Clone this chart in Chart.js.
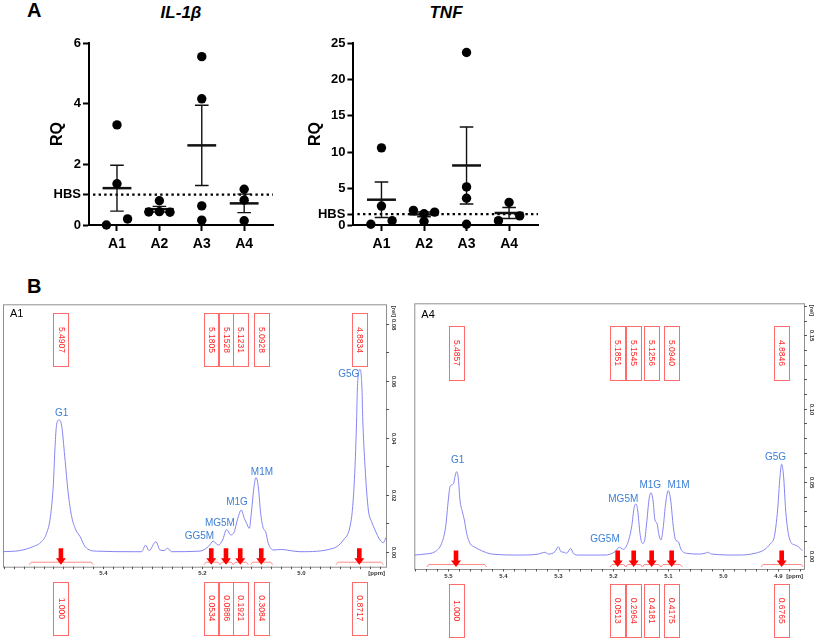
<!DOCTYPE html>
<html>
<head>
<meta charset="utf-8">
<script src="https://cdn.jsdelivr.net/npm/chart.js@4.4.1/dist/chart.umd.min.js"></script>
<style>
body { margin: 0; background: #fff; width: 817px; height: 640px; position: relative; overflow: hidden; font-family: "Liberation Sans", Arial, sans-serif; }
canvas { position: absolute; }
.t { position: absolute; font-weight: bold; white-space: nowrap; line-height: 20px; color: #000; }
</style>
</head>
<body>
<div class="t" style="left:27px;top:0;font-size:20px">A</div>
<div class="t" style="left:27px;top:276px;font-size:20px">B</div>
<div class="t" style="left:131px;top:3px;width:100px;text-align:center;font-size:17px;font-style:italic">IL-1β</div>
<div class="t" style="left:396px;top:3px;width:100px;text-align:center;font-size:17px;font-style:italic">TNF</div>
<canvas id="il" width="300" height="265" style="left:0;top:0"></canvas>
<canvas id="tnf" width="270" height="265" style="left:290px;top:0"></canvas>
<canvas id="a1" width="408" height="345" style="left:0;top:295px"></canvas>
<canvas id="a4" width="409" height="345" style="left:408px;top:295px"></canvas>
<script>
// panel A: qPCR, relative quantity per group
const groups = ['A1', 'A2', 'A3', 'A4'];
const il1bA1 = [3.3, 1.36, 0, 0.2];
const il1bA2 = [0.8, 0.43, 0.44, 0.42];
const il1bA3 = [5.55, 4.16, 0.63, 0.16];
const il1bA4 = [1.18, 0.82, 0.14];
const il1bTicks = [0, 1, 2, 4, 6];
const il1bHbs = 1;

const tnfA1 = [10.6, 2.6, 0.1, 0.6];
const tnfA2 = [2.0, 1.55, 1.77, 0.5];
const tnfA3 = [23.7, 5.23, 3.68, 0.1];
const tnfA4 = [3.1, 0.6, 1.25];
const tnfTicks = [0, 1.5, 5, 10, 15, 20, 25];
const tnfHbs = 1.5;

// panel B: 1H NMR spectra, chemical shift (ppm) vs intensity (rel)
const a1Ppm = [5.603, 5.568, 5.541, 5.524, 5.514, 5.506, 5.500, 5.497, 5.494, 5.489, 5.4835, 5.477, 5.470, 5.463, 5.4545, 5.446, 5.436, 5.413,
  5.338, 5.3215, 5.3134, 5.3067, 5.2925, 5.2844, 5.2763, 5.2689, 5.2608, 5.2034, 5.1866, 5.1765, 5.1663, 5.1576, 5.1495, 5.1414, 5.1339,
  5.1279, 5.1198, 5.1137, 5.1090, 5.1036, 5.0989, 5.0941, 5.0901, 5.0854, 5.0806, 5.0752, 5.0705, 5.0651, 5.0550, 5.0381, 5.0213, 5.0010,
  4.9335, 4.9133, 4.8998, 4.8944, 4.8897, 4.8863, 4.8850, 4.8796, 4.8755, 4.8742, 4.8694, 4.8627, 4.8560, 4.8492, 4.8391, 4.8323, 4.8269];
const a1Rel = [0.0, 0.0004, 0.0018, 0.0035, 0.0064, 0.0123, 0.0240, 0.0357, 0.0439, 0.0462, 0.0444, 0.0333, 0.0205, 0.0123, 0.0076, 0.0053, 0.0018, 0.0002,
  0.0, 0.0, 0.0023, 0.0004, 0.0035, 0.0006, 0.0004, 0.0012, 0.0, 0.0002, 0.0018, 0.0037, 0.0023, 0.0041, 0.0078, 0.0059, 0.0070,
  0.0111, 0.0146, 0.0117, 0.0099, 0.0082, 0.0146, 0.0228, 0.0260, 0.0228, 0.0134, 0.0082, 0.0070, 0.0029, 0.0006, 0.0008, 0.0004, 0.0,
  0.0012, 0.0041, 0.0088, 0.0158, 0.0298, 0.0474, 0.0567, 0.0640, 0.0567, 0.0474, 0.0298, 0.0146, 0.0105, 0.0076, 0.0041, 0.0032, 0.0050];
const a1Names = ['G1', 'GG5M', 'MG5M', 'M1G', 'M1M', 'G5G'];
const a1NamePpm = [5.4834, 5.2045, 5.163, 5.1285, 5.078, 4.9024];
const a1NameRel = [0.0486, 0.0053, 0.0100, 0.0173, 0.0279, 0.0624];
const a1Marks = [5.4848, 5.1806, 5.1508, 5.1219, 5.0794, 4.8810];
const a1PeakText = ['5.4907', '5.1805', '5.1528', '5.1231', '5.0928', '4.8834'];
const a1IntText = ['1.000', '0.0534', '0.0886', '0.1921', '0.3084', '0.8717'];
const a1IntFrom = [5.549, 5.1953, 5.163, 5.136, 5.1008, 4.9281];
const a1IntTo = [5.4194, 5.163, 5.136, 5.1057, 5.0563, 4.8324];

const a4Ppm = [5.5606, 5.5412, 5.5231, 5.5110, 5.5037, 5.4989, 5.4958, 5.4928, 5.4892, 5.4868, 5.4837, 5.4807, 5.4777, 5.4734, 5.4698, 5.4656,
  5.4595, 5.4505, 5.4384, 5.4202, 5.3658, 5.3355, 5.3234, 5.3174, 5.3053, 5.2992, 5.2944, 5.2883, 5.2841, 5.2768, 5.2720, 5.2629, 5.2145,
  5.1964, 5.1885, 5.1813, 5.1734, 5.1661, 5.1613, 5.1583, 5.1552, 5.1510, 5.1468, 5.1431, 5.1389, 5.1347, 5.1310, 5.1274, 5.1238, 5.1202,
  5.1165, 5.1129, 5.1087, 5.1044, 5.0996, 5.0953, 5.0905, 5.0863, 5.0814, 5.0766, 5.0663, 5.0451, 5.0330, 5.0282, 5.0210, 4.9725, 4.9423,
  4.9242, 4.9151, 4.9072, 4.9012, 4.8969, 4.8939, 4.8903, 4.8866, 4.8818, 4.8758, 4.8697, 4.8636, 4.8564];
const a4Rel = [0.0003, 0.0010, 0.0026, 0.0083, 0.0196, 0.0378, 0.0469, 0.0481, 0.0492, 0.0537, 0.0571, 0.0526, 0.0378, 0.0299, 0.0242, 0.0151,
  0.0083, 0.0056, 0.0033, 0.0010, 0.0003, 0.0010, 0.0022, 0.0010, 0.0026, 0.0060, 0.0026, 0.0022, 0.0015, 0.0049, 0.0015, 0.0003, 0.0003,
  0.0026, 0.0056, 0.0042, 0.0083, 0.0196, 0.0333, 0.0351, 0.0310, 0.0151, 0.0083, 0.0094, 0.0220, 0.0378, 0.0428, 0.0378, 0.0242, 0.0220,
  0.0140, 0.0106, 0.0196, 0.0356, 0.0442, 0.0378, 0.0196, 0.0106, 0.0094, 0.0042, 0.0015, 0.0010, 0.0015, 0.0022, 0.0010, 0.0003, 0.0015,
  0.0042, 0.0078, 0.0128, 0.0310, 0.0537, 0.0622, 0.0537, 0.0310, 0.0151, 0.0083, 0.0072, 0.0060, 0.0033];
const a4Names = ['G1', 'GG5M', 'MG5M', 'M1G', 'M1M', 'G5G'];
const a4NamePpm = [5.4819, 5.2145, 5.1813, 5.1323, 5.0811, 4.9051];
const a4NameRel = [0.0651, 0.0110, 0.0385, 0.0476, 0.0481, 0.0673];
const a4Marks = [5.4849, 5.1915, 5.1624, 5.1298, 5.0935, 4.8938];
const a4PeakText = ['5.4857', '5.1851', '5.1545', '5.1256', '5.0940', '4.8846'];
const a4IntText = ['1.000', '0.0513', '0.2964', '0.4181', '0.4175', '0.6765'];
const a4IntFrom = [5.5381, 5.2054, 5.1769, 5.1468, 5.1129, 4.9313];
const a4IntTo = [5.4292, 5.1769, 5.1468, 5.1129, 5.0742, 4.8546];

Chart.defaults.font.family = '"Liberation Sans", Arial, sans-serif';
Chart.defaults.color = '#000';

// spread points that sit on top of each other, like the prism scatter
function spread(vals, tol) {
  const off = vals.map(() => null);
  vals.forEach((v, i) => {
    if (off[i] !== null) return;
    const grp = [i];
    vals.forEach((u, j) => {
      if (j > i && off[j] === null && Math.abs(u - v) < tol) grp.push(j);
    });
    const n = grp.length;
    grp.forEach((j, k) => { off[j] = n === 2 ? (k ? 1 : -1) : k - (n - 1) / 2; });
  });
  return off;
}

function meanSem(vals) {
  const m = vals.reduce((s, v) => s + v, 0) / vals.length;
  const sd = Math.sqrt(vals.reduce((s, v) => s + (v - m) * (v - m), 0) / (vals.length - 1));
  return [m, sd / Math.sqrt(vals.length)];
}

function statsPlugin(series, hbs) {
  return {
    id: 'stats',
    beforeDatasetsDraw(chart) {
      const { ctx, chartArea: a, scales: { x, y } } = chart;
      ctx.save();
      // HBS reference line
      ctx.strokeStyle = '#000';
      ctx.lineWidth = 2.4;
      ctx.setLineDash([2.4, 3.2]);
      ctx.beginPath();
      ctx.moveTo(a.left + 4, y.getPixelForValue(hbs));
      ctx.lineTo(a.right, y.getPixelForValue(hbs));
      ctx.stroke();
      ctx.setLineDash([]);
      series.forEach((vals, i) => {
        const [m, sem] = meanSem(vals);
        const cx = x.getPixelForValue(i + 1);
        const mw = x.getPixelForValue(i + 1.34) - cx;
        const cw = x.getPixelForValue(i + 1.16) - cx;
        const yt = y.getPixelForValue(m + sem), yb = y.getPixelForValue(m - sem), ym = y.getPixelForValue(m);
        ctx.strokeStyle = '#111';
        ctx.lineWidth = 1.4;
        ctx.beginPath();
        ctx.moveTo(cx, yt); ctx.lineTo(cx, yb);
        ctx.moveTo(cx - cw, yt); ctx.lineTo(cx + cw, yt);
        ctx.moveTo(cx - cw, yb); ctx.lineTo(cx + cw, yb);
        ctx.stroke();
        ctx.lineWidth = 2.5;
        ctx.beginPath();
        ctx.moveTo(cx - mw, ym); ctx.lineTo(cx + mw, ym);
        ctx.stroke();
      });
      ctx.restore();
    }
  };
}

function dotChart(id, series, yMax, yTicks, hbs, pad, yWidth) {
  const pts = [];
  series.forEach((vals, i) => {
    const off = spread(vals, yMax * 0.038);
    vals.forEach((v, k) => pts.push({ x: i + 1 + off[k] * 0.25, y: v }));
  });
  const axisGrid = { drawOnChartArea: false, tickLength: 6, tickWidth: 2, tickColor: '#000' };
  const axisBorder = { color: '#000', width: 2 };
  return new Chart(document.getElementById(id), {
    type: 'scatter',
    data: { datasets: [{ data: pts, backgroundColor: '#000', borderWidth: 0, pointRadius: 4.7, clip: false }] },
    options: {
      responsive: false, animation: false, events: [],
      layout: { padding: pad },
      plugins: { legend: { display: false }, tooltip: { enabled: false } },
      scales: {
        x: {
          type: 'linear', min: 0.34, max: 4.68,
          afterBuildTicks: s => { s.ticks = groups.map((g, i) => ({ value: i + 1 })); },
          afterFit: s => { s.height = 40; },
          ticks: { callback: v => groups[v - 1], font: { size: 14, weight: 'bold' }, padding: 5, autoSkip: false, maxRotation: 0 },
          grid: axisGrid, border: axisBorder
        },
        y: {
          min: 0, max: yMax,
          afterBuildTicks: s => { s.ticks = yTicks.map(v => ({ value: v })); },
          afterFit: s => { s.width = yWidth; },
          title: { display: true, text: 'RQ', font: { size: 16, weight: 'bold' }, padding: { top: 4, bottom: 4 } },
          ticks: { callback: v => (v === hbs ? 'HBS' : v), font: { size: 13, weight: 'bold' }, padding: 2, autoSkip: false },
          grid: axisGrid, border: axisBorder
        }
      }
    },
    plugins: [statsPlugin(series, hbs)]
  });
}

dotChart('il', [il1bA1, il1bA2, il1bA3, il1bA4], 6, il1bTicks, il1bHbs, { left: 44, right: 27, top: 43, bottom: 0 }, 45);
dotChart('tnf', [tnfA1, tnfA2, tnfA3, tnfA4], 25, tnfTicks, tnfHbs, { left: 12.4, right: 22, top: 43, bottom: 0 }, 51);

function vtext(ctx, txt, x, y) {
  ctx.save();
  ctx.translate(x, y);
  ctx.rotate(Math.PI / 2);
  ctx.fillText(txt, 0, 0);
  ctx.restore();
}

function nmrPlugin(p) {
  return {
    id: 'nmr',
    afterDatasetsDraw(chart) {
      const { ctx, chartArea: a, scales: { x, y } } = chart;
      ctx.save();
      ctx.strokeStyle = '#8f8f8f';
      ctx.lineWidth = 1;
      ctx.strokeRect(a.left + 0.5, a.top + 0.5, a.width, a.height);

      // ppm axis
      ctx.strokeStyle = '#555';
      ctx.fillStyle = '#333';
      ctx.textAlign = 'center';
      ctx.textBaseline = 'middle';
      ctx.font = 'bold 6px "Liberation Sans", Arial, sans-serif';
      for (let k = Math.ceil(x.min / 0.02 - 1e-6); k * 0.02 <= x.max + 1e-9; k++) {
        const px = Math.round(x.getPixelForValue(k * 0.02)) + 0.5;
        ctx.beginPath(); ctx.moveTo(px, a.bottom); ctx.lineTo(px, a.bottom + 2.5); ctx.stroke();
        if (k % p.ppmEvery === 0 && px > a.left + 10 && px < a.right - 20) ctx.fillText((k * 0.02).toFixed(1), px, a.bottom + 7);
      }
      ctx.textAlign = 'right';
      ctx.fillText('[ppm]', a.right - 1, a.bottom + 7);

      // intensity axis on the right
      ctx.textAlign = 'center';
      for (let k = Math.ceil(y.min / 0.01 - 1e-6); k * 0.01 <= y.max + 1e-9; k++) {
        const py = Math.round(y.getPixelForValue(k * 0.01)) + 0.5;
        ctx.beginPath(); ctx.moveTo(a.right, py); ctx.lineTo(a.right + 3, py); ctx.stroke();
        if (k % p.relEvery === 0) vtext(ctx, (k * 0.01).toFixed(2), a.right + 8, py);
      }
      vtext(ctx, '[rel]', a.right + 8, a.top + 7);

      // panel name
      ctx.fillStyle = '#000';
      ctx.textAlign = 'left';
      ctx.font = '11px "Liberation Sans", Arial, sans-serif';
      ctx.fillText(p.name, a.left + 7, a.top + p.nameDy);

      // peak names
      ctx.fillStyle = '#3d7fd6';
      ctx.textAlign = 'center';
      ctx.font = '10px "Liberation Sans", Arial, sans-serif';
      p.names.forEach((n, i) => ctx.fillText(n, x.getPixelForValue(p.namePpm[i]), y.getPixelForValue(p.nameRel[i])));

      // integration brackets
      ctx.strokeStyle = '#ff7d7d';
      ctx.lineWidth = 0.9;
      p.intFrom.forEach((f, i) => {
        const x1 = x.getPixelForValue(f), x2 = x.getPixelForValue(p.intTo[i]);
        const yb = a.bottom - 2, yf = a.bottom - 4.5;
        ctx.beginPath();
        ctx.moveTo(x1, yb); ctx.lineTo(x1 + 2, yf); ctx.lineTo(x2 - 2, yf); ctx.lineTo(x2, yb);
        ctx.stroke();
      });

      // arrows and boxes
      p.marks.forEach((m, i) => {
        const cx = x.getPixelForValue(m);
        ctx.fillStyle = '#f00';
        ctx.beginPath();
        ctx.moveTo(cx - 2.3, a.bottom - 18.5);
        ctx.lineTo(cx + 2.3, a.bottom - 18.5);
        ctx.lineTo(cx + 2.3, a.bottom - 8.5);
        ctx.lineTo(cx + 5, a.bottom - 8.5);
        ctx.lineTo(cx, a.bottom - 2);
        ctx.lineTo(cx - 5, a.bottom - 8.5);
        ctx.lineTo(cx - 2.3, a.bottom - 8.5);
        ctx.closePath();
        ctx.fill();
        [[a.top + p.topBox[0], a.top + p.topBox[1], p.peakText[i]],
         [a.bottom + 15, a.bottom + 68.3, p.intText[i]]].forEach(([t, b, txt]) => {
          ctx.strokeStyle = '#ff6b6b';
          ctx.lineWidth = 1;
          ctx.strokeRect(Math.round(cx - 7.5) + 0.5, Math.round(t) + 0.5, 15, Math.round(b - t));
          ctx.fillStyle = '#ff2626';
          ctx.font = '8.5px "Liberation Sans", Arial, sans-serif';
          ctx.textAlign = 'center';
          vtext(ctx, txt, cx, (t + b) / 2);
        });
      });
      ctx.restore();
    }
  };
}

function nmrChart(id, ppm, rel, xr, yr, pad, p) {
  return new Chart(document.getElementById(id), {
    type: 'line',
    data: {
      datasets: [{
        data: ppm.map((v, i) => ({ x: v, y: rel[i] })),
        borderColor: '#8585f2', borderWidth: 1, pointRadius: 0,
        cubicInterpolationMode: 'monotone', fill: false
      }]
    },
    options: {
      responsive: false, animation: false, events: [],
      layout: { padding: pad },
      plugins: { legend: { display: false }, tooltip: { enabled: false } },
      scales: {
        x: { type: 'linear', reverse: true, min: xr[0], max: xr[1], display: false },
        y: { type: 'linear', min: yr[0], max: yr[1], display: false }
      }
    },
    plugins: [nmrPlugin(p)]
  });
}

nmrChart('a1', a1Ppm, a1Rel, [4.827, 5.602], [-0.00526, 0.0868], { left: 3, top: 9.3, right: 22, bottom: 73.3 }, {
  name: 'A1', nameDy: 10, ppmEvery: 10, relEvery: 2, topBox: [9, 62.4],
  names: a1Names, namePpm: a1NamePpm, nameRel: a1NameRel, marks: a1Marks,
  peakText: a1PeakText, intText: a1IntText, intFrom: a1IntFrom, intTo: a1IntTo
});
nmrChart('a4', a4Ppm, a4Rel, [4.8533, 5.5606], [-0.0092, 0.1719], { left: 6.3, top: 8.3, right: 13, bottom: 71 }, {
  name: 'A4', nameDy: 11.7, ppmEvery: 5, relEvery: 5, topBox: [22.7, 76.7],
  names: a4Names, namePpm: a4NamePpm, nameRel: a4NameRel, marks: a4Marks,
  peakText: a4PeakText, intText: a4IntText, intFrom: a4IntFrom, intTo: a4IntTo
});
</script>
</body>
</html>
